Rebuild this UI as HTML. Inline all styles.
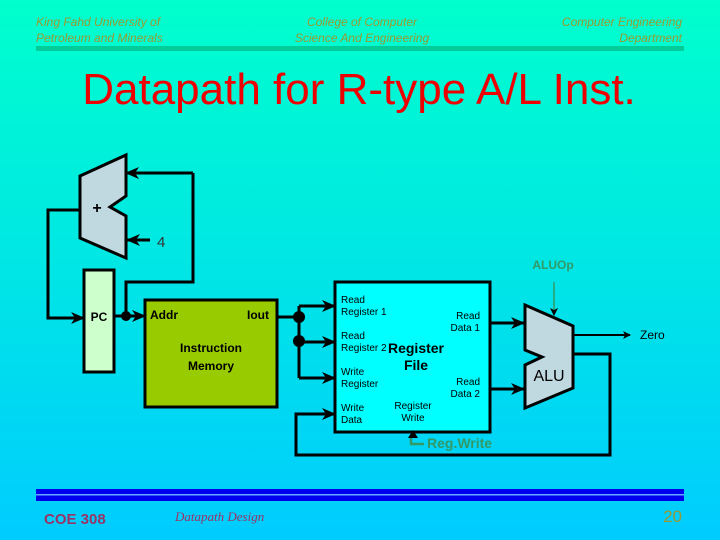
<!DOCTYPE html>
<html><head><style>
html,body{margin:0;padding:0;}
body{width:720px;height:540px;overflow:hidden;background:linear-gradient(#00ffcc,#00ccff);font-family:"Liberation Sans",sans-serif;}
svg{display:block;}
</style></head><body>
<svg width="720" height="540" xmlns="http://www.w3.org/2000/svg" font-family="'Liberation Sans', sans-serif">
<defs>
<linearGradient id="g" x1="0" y1="0" x2="0" y2="1"><stop offset="0" stop-color="#00ffcc"/><stop offset="1" stop-color="#00ccff"/></linearGradient>
<marker id="a" markerWidth="8" markerHeight="8" refX="7" refY="4" orient="auto" markerUnits="userSpaceOnUse"><path d="M0,0 L8,4 L0,8 L2,4z" fill="#000"/></marker>
<marker id="b" markerWidth="14" markerHeight="12" refX="13" refY="6" orient="auto" markerUnits="userSpaceOnUse"><path d="M0,0 L14,6 L0,12 L4,6z" fill="#000"/></marker>
</defs>
<rect width="720" height="540" fill="url(#g)"/>
<g font-style="italic" font-size="12" fill="#999933">
<text x="36" y="26">King Fahd University of</text>
<text x="36" y="42">Petroleum and Minerals</text>
<text x="362" y="26" text-anchor="middle">College of Computer</text>
<text x="362" y="42" text-anchor="middle">Science And Engineering</text>
<text x="682" y="26" text-anchor="end">Computer Engineering</text>
<text x="682" y="42" text-anchor="end">Department</text>
</g>
<rect x="36" y="46" width="648" height="5" fill="#00cc99"/>
<text x="359" y="104" text-anchor="middle" font-size="44" fill="#ee0000">Datapath for R-type A/L Inst.</text>

<g stroke="#000" stroke-width="3" fill="none">
<polyline points="193,173 126,173" marker-end="url(#b)"/>
<polyline points="126,316 126,282 193,282 193,173"/>
<line x1="150" y1="240" x2="127" y2="240" marker-end="url(#b)"/>
<polyline points="80,210 48,210 48,318 84,318" marker-end="url(#b)"/>
<line x1="114" y1="316" x2="145" y2="316" marker-end="url(#b)"/>
<line x1="277" y1="317" x2="299" y2="317"/>
<polyline points="299,306 299,378"/>
<line x1="299" y1="306" x2="335" y2="306" marker-end="url(#b)"/>
<line x1="299" y1="342" x2="335" y2="342" marker-end="url(#b)"/>
<line x1="299" y1="378" x2="335" y2="378" marker-end="url(#b)"/>
<polyline points="573,354 610,354 610,455 296,455 296,414 335,414" marker-end="url(#b)"/>
<line x1="490" y1="323" x2="524" y2="323" marker-end="url(#b)"/>
<line x1="490" y1="389" x2="524" y2="389" marker-end="url(#b)"/>
</g>
<line x1="573" y1="335" x2="630" y2="335" stroke="#000" stroke-width="2" marker-end="url(#a)"/>
<g fill="#000"><circle cx="126" cy="316" r="5"/><circle cx="299" cy="317" r="6"/><circle cx="299" cy="341" r="6"/></g>

<polygon points="80,176 126,155 126,196 110,207 126,216 126,258 80,238" fill="#c0d8e0" stroke="#000" stroke-width="3"/>
<text x="97" y="213" font-size="16" font-weight="bold" text-anchor="middle">+</text>
<text x="157" y="247" font-size="15" fill="#333">4</text>

<rect x="84" y="270" width="30" height="102" fill="#ccffcc" stroke="#000" stroke-width="3"/>
<text x="99" y="321" font-size="12" font-weight="bold" text-anchor="middle">PC</text>

<rect x="145" y="300" width="132" height="107" fill="#99cc00" stroke="#000" stroke-width="3"/>
<g font-size="12" font-weight="bold"><text x="150" y="319">Addr</text><text x="247" y="319">Iout</text>
<text x="211" y="352" text-anchor="middle">Instruction</text><text x="211" y="370" text-anchor="middle">Memory</text></g>

<rect x="335" y="282" width="155" height="150" fill="#00ffff" stroke="#000" stroke-width="3"/>
<g font-size="10">
<text x="341" y="303">Read</text><text x="341" y="315">Register 1</text>
<text x="341" y="339">Read</text><text x="341" y="351">Register 2</text>
<text x="341" y="375">Write</text><text x="341" y="387">Register</text>
<text x="341" y="411">Write</text><text x="341" y="423">Data</text>
<text x="480" y="319" text-anchor="end">Read</text><text x="480" y="331" text-anchor="end">Data 1</text>
<text x="480" y="385" text-anchor="end">Read</text><text x="480" y="397" text-anchor="end">Data 2</text>
<text x="413" y="409" text-anchor="middle">Register</text><text x="413" y="421" text-anchor="middle">Write</text>
</g>
<text x="416" y="353" font-size="14" font-weight="bold" text-anchor="middle">Register</text>
<text x="416" y="370" font-size="14" font-weight="bold" text-anchor="middle">File</text>

<polygon points="525,305 573,326 573,388 525,408 525,365 542,357 525,350" fill="#c0d8e0" stroke="#000" stroke-width="3"/>
<text x="549" y="381" font-size="16" text-anchor="middle">ALU</text>
<text x="640" y="339" font-size="12">Zero</text>

<text x="553" y="269" font-size="12" font-weight="bold" fill="#339966" text-anchor="middle">ALUOp</text>
<line x1="554" y1="282" x2="554" y2="315" stroke="#339966" stroke-width="1.5" marker-end="url(#a)"/>
<polyline points="424,444 411,444 411,436" fill="none" stroke="#339966" stroke-width="2.5"/>
<path d="M408,438 L413,430 L418,438z" fill="#000"/>
<text x="427" y="448" font-size="14" font-weight="bold" fill="#339966">Reg.Write</text>

<rect x="36" y="489" width="648" height="12" fill="#0000ee"/>
<rect x="36" y="494" width="648" height="1.5" fill="#66aaff"/>
<text x="44" y="524" font-size="15" font-weight="bold" fill="#993366">COE 308</text>
<text x="175" y="521" font-size="13" font-style="italic" font-family="'Liberation Serif', serif" fill="#993366">Datapath Design</text>
<text x="682" y="522" font-size="17" font-family="'Liberation Sans', sans-serif" fill="#999933" text-anchor="end">20</text>
</svg>
</body></html>
